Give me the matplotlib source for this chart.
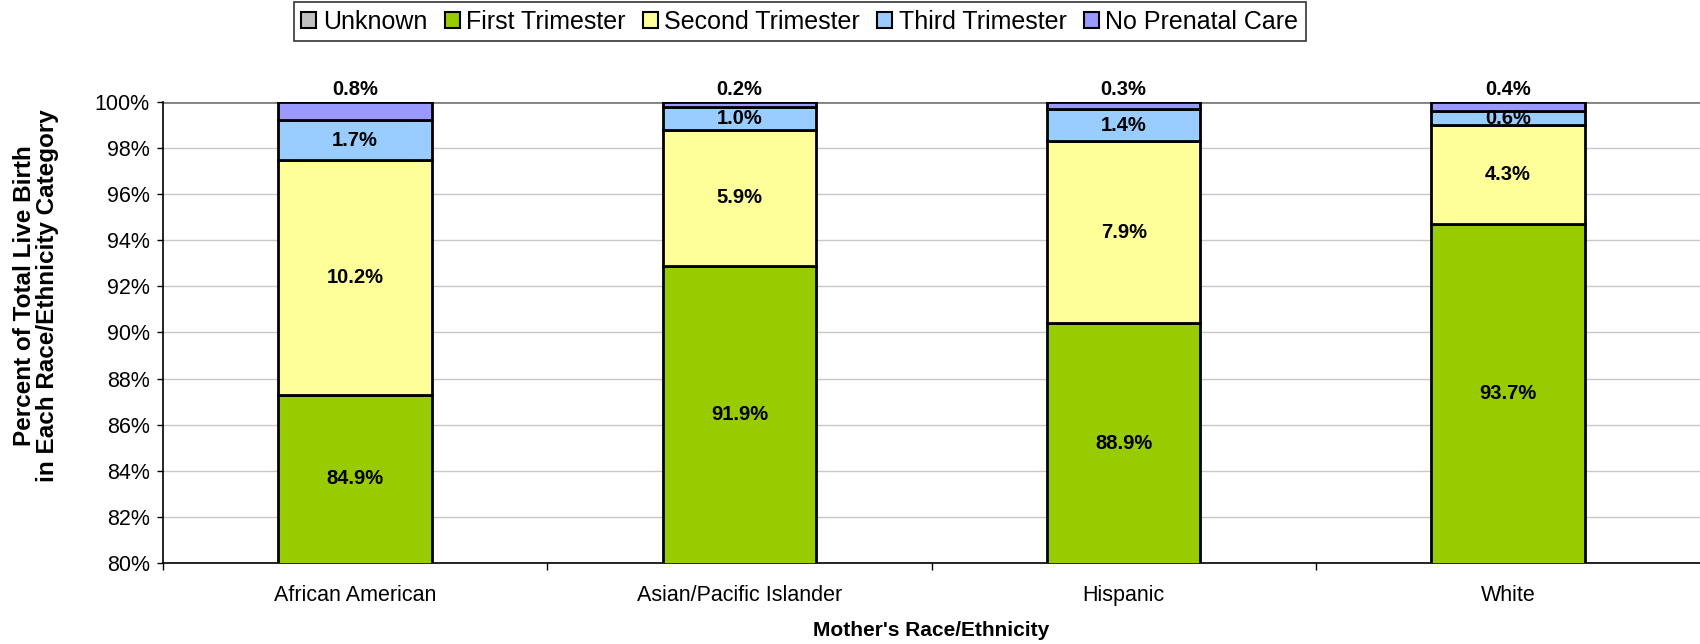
import matplotlib
matplotlib.use("Agg")
import matplotlib.pyplot as plt
from matplotlib.patches import Patch
import numpy as np

plt.rcParams['font.family'] = ['Liberation Sans', 'DejaVu Sans']

categories = ["African American", "Asian/Pacific Islander", "Hispanic", "White"]
series_names = ["Unknown", "First Trimester", "Second Trimester", "Third Trimester", "No Prenatal Care"]
unknown = [2.4, 1.0, 1.5, 1.0]
first = [84.9, 91.9, 88.9, 93.7]
second = [10.2, 5.9, 7.9, 4.3]
third = [1.7, 1.0, 1.4, 0.6]
none_care = [0.8, 0.2, 0.3, 0.4]
colors = ["#C0C0C0", "#99CC00", "#FFFF99", "#99CCFF", "#9999FF"]
ytick_vals = [80, 82, 84, 86, 88, 90, 92, 94, 96, 98, 100]

fig = plt.figure(figsize=(17, 6.44), dpi=100)
ax = fig.add_axes([0.0959, 0.1258, 0.9041, 0.7158])

x = np.arange(len(categories))
series = [unknown, first, second, third, none_care]
bottom = np.zeros(len(categories))
for name, vals, col in zip(series_names, series, colors):
    vals = np.array(vals)
    ax.bar(x, vals, 0.4, bottom=bottom, color=col, edgecolor='black', linewidth=2, zorder=3)
    if name in ("First Trimester", "Second Trimester", "Third Trimester"):
        for xi, b, v in zip(x, bottom, vals):
            yc = max(b, 80) + (b + v - max(b, 80)) / 2
            ax.text(xi, yc, f"{v:.1f}%", ha='center', va='center', fontsize=14.5,
                    fontweight='bold', zorder=5)
    elif name == "No Prenatal Care":
        for xi, b, v in zip(x, bottom, vals):
            ax.text(xi, b + v + 0.55, f"{v:.1f}%", ha='center', va='center', fontsize=14.5,
                    fontweight='bold', zorder=5, clip_on=False)
    bottom = bottom + vals

ax.set_ylim(80, 100)
ax.set_xlim(-0.5, 3.5)
ax.set_yticks(ytick_vals)
ax.set_yticklabels([f"{v}%" for v in ytick_vals], fontsize=15.5)
ax.yaxis.grid(True, color='#C8C8C8', linewidth=1, zorder=0)
ax.axhline(100, color='#808080', linewidth=2, zorder=2)
ax.set_xticks(x)
ax.set_xticklabels(categories, fontsize=15.5)
ax.tick_params(axis='x', length=0, pad=16)
ax.set_xticks([-0.5, 0.5, 1.5, 2.5], minor=True)
ax.tick_params(axis='x', which='minor', length=5, width=1, direction='out')
ax.tick_params(axis='y', length=4.5, width=1, direction='out', pad=5)
for s in ['top', 'right']:
    ax.spines[s].set_visible(False)
ax.spines['left'].set_linewidth(1.2)
ax.spines['bottom'].set_linewidth(1.2)

ax.set_xlabel("Mother's Race/Ethnicity", fontsize=15, fontweight='bold', labelpad=11)
ax.set_ylabel("Percent of Total Live Birth\nin Each Race/Ethnicity Category", fontsize=17.5,
              fontweight='bold', linespacing=0.95)
ax.yaxis.set_label_coords(-0.068, 0.58)

handles = [Patch(facecolor=c, edgecolor='black', linewidth=1.5) for c in colors]
leg = fig.legend(handles, series_names, loc='center', bbox_to_anchor=(0.4705, 0.966), ncol=5,
                 fontsize=18, frameon=True, fancybox=False, edgecolor='black',
                 handlelength=0.6, handleheight=0.6, handletextpad=0.25, columnspacing=0.7,
                 borderpad=0.3, borderaxespad=0)
leg.get_frame().set_linewidth(1.2)

fig.savefig("out.png", dpi=100)
